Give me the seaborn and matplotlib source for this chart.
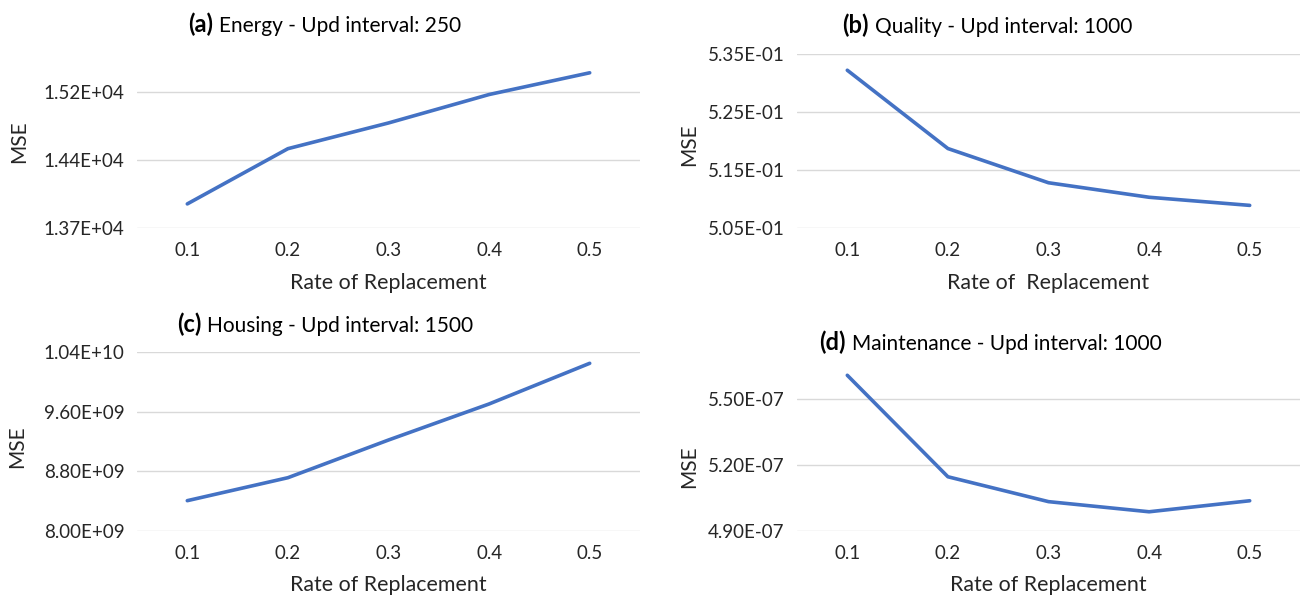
import matplotlib
matplotlib.use("Agg")
import matplotlib.pyplot as plt
import seaborn as sns
import pandas as pd

# ---- data ----
rates = ["0.1", "0.2", "0.3", "0.4", "0.5"]

energy_mse = [13966, 14576, 14860, 15174, 15414]
quality_mse = [0.5322, 0.5187, 0.5128, 0.5103, 0.5089]
housing_mse = [8.404e9, 8.713e9, 9.220e9, 9.705e9, 10.252e9]
maint_mse = [5.606e-7, 5.145e-7, 5.032e-7, 4.986e-7, 5.036e-7]

energy_ticks = [13700, 14450, 15200]
energy_ticklabels = ["1.37E+04", "1.44E+04", "1.52E+04"]
quality_ticks = [0.505, 0.515, 0.525, 0.535]
quality_ticklabels = ["5.05E-01", "5.15E-01", "5.25E-01", "5.35E-01"]
housing_ticks = [8.0e9, 8.8e9, 9.6e9, 10.4e9]
housing_ticklabels = ["8.00E+09", "8.80E+09", "9.60E+09", "1.04E+10"]
maint_ticks = [4.9e-7, 5.2e-7, 5.5e-7]
maint_ticklabels = ["4.90E-07", "5.20E-07", "5.50E-07"]

titles_bold = ["(a)", "(b)", "(c)", "(d)"]
titles_rest = ["Energy - Upd interval: 250", "Quality - Upd interval: 1000",
               "Housing - Upd interval: 1500", "Maintenance - Upd interval: 1000"]
xlabels = ["Rate of Replacement", "Rate of  Replacement",
           "Rate of Replacement", "Rate of Replacement"]

# ---- style ----
sns.set_theme(style="white")
FONT = ["Lato", "DejaVu Sans"]
plt.rcParams["font.family"] = FONT
LINE_COLOR = "#4472C4"
GRID_COLOR = "#D9D9D9"
TEXT_COLOR = "#262626"

W, H = 1306, 598
fig = plt.figure(figsize=(W / 100, H / 100), dpi=100)

def px_axes(left, right, top, bottom):
    return fig.add_axes([left / W, 1 - bottom / H, (right - left) / W, (bottom - top) / H])

panels = [
    dict(rect=(137, 640, 65, 228), y=energy_mse, ticks=energy_ticks, tl=energy_ticklabels,
         ylim=(13700, 15500), ylab=(-0.235, 0.53)),
    dict(rect=(797, 1300, 54, 228), y=quality_mse, ticks=quality_ticks, tl=quality_ticklabels,
         ylim=(0.505, 0.535), ylab=(-0.215, 0.48)),
    dict(rect=(137, 640, 352.3, 530.7), y=housing_mse, ticks=housing_ticks, tl=housing_ticklabels,
         ylim=(8.0e9, 10.4e9), ylab=(-0.239, 0.47)),
    dict(rect=(797, 1300, 370, 530.7), y=maint_mse, ticks=maint_ticks, tl=maint_ticklabels,
         ylim=(4.9e-7, 5.63e-7), ylab=(-0.215, 0.40)),
]

title_pos = [(219, 32), (875, 33), (207, 332), (852, 350)]

for i, p in enumerate(panels):
    ax = px_axes(*p["rect"])
    df = pd.DataFrame({"rate": rates, "mse": p["y"]})
    sns.lineplot(data=df, x="rate", y="mse", ax=ax, color=LINE_COLOR, linewidth=2.6,
                 sort=False)
    ax.set_xlim(-0.5, 4.5)
    ax.set_ylim(*p["ylim"])
    ax.set_yticks(p["ticks"])
    ax.set_yticklabels(p["tl"])
    ax.grid(axis="y", color=GRID_COLOR, linewidth=1.0)
    ax.grid(axis="x", visible=False)
    ax.set_axisbelow(True)
    for s in ax.spines.values():
        s.set_visible(False)
    ax.tick_params(axis="both", length=0, labelsize=13.5, colors=TEXT_COLOR)
    ax.tick_params(axis="y", pad=9)
    ax.tick_params(axis="x", pad=10)
    ax.set_xlabel(xlabels[i], fontsize=15.4, color=TEXT_COLOR, labelpad=10)
    ax.set_ylabel("MSE", fontsize=15, color=TEXT_COLOR)
    ax.yaxis.set_label_coords(*p["ylab"])
    ax.yaxis.label.set_verticalalignment("center")
    ax.patch.set_alpha(0)

    tx, ty = title_pos[i]
    fig.text((tx - 6) / W, 1 - ty / H, titles_bold[i], ha="right", va="baseline",
             fontsize=17, fontweight="bold", color="black")
    fig.text(tx / W, 1 - ty / H, titles_rest[i], ha="left", va="baseline",
             fontsize=15, color="black")

fig.savefig("out.png", dpi=100, facecolor="white")
